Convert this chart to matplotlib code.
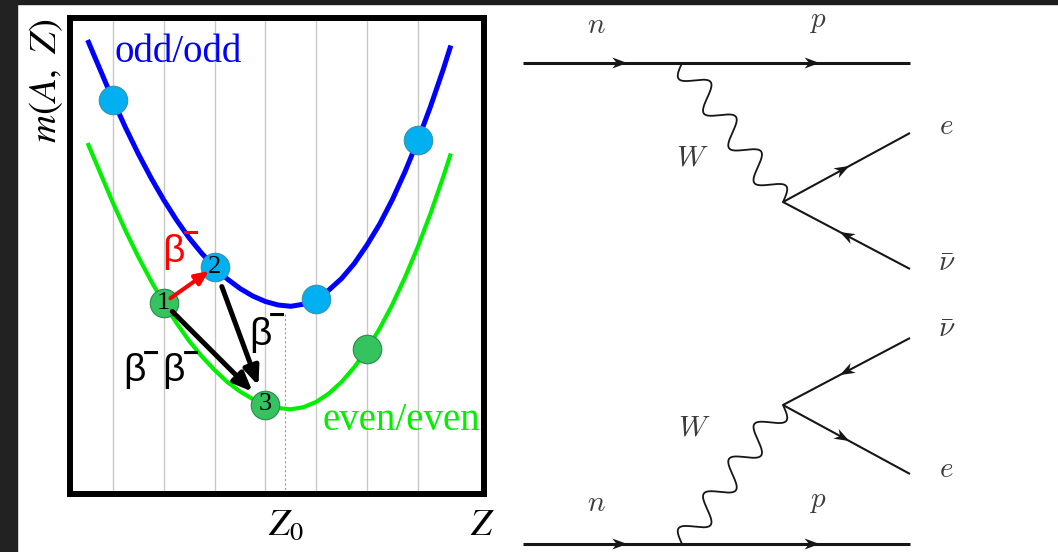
import matplotlib.pyplot as plt
import numpy as np
from matplotlib.patches import Rectangle, Polygon

W_PX, H_PX = 1058, 552

# mass parabolas, Z counted from the first grid line, mass in arbitrary units
z_curve = [-0.5, -0.25, 0, 0.25, 0.5, 0.75, 1, 1.25, 1.5, 1.75, 2, 2.25, 2.5, 2.75, 3,
           3.25, 3.5, 3.75, 4, 4.25, 4.5, 4.75, 5, 5.25, 5.5, 5.75, 6, 6.25, 6.5, 6.65]
m_odd = [455, 425, 395, 367, 341, 317, 295, 275, 257, 241.5, 228, 216, 206.5, 199, 193.5,
         190, 188.7, 190.8, 196, 205, 216.5, 231.5, 250, 271, 295.5, 323.5, 354.5, 388.5, 425.5, 449.5]
m_even = [352, 322, 292, 264, 238, 214, 192, 172, 154, 138.5, 125, 113, 103.5, 96, 90.5,
          87, 85.7, 87.8, 93.1, 101.5, 113.1, 127.8, 145.6, 166.5, 190.6, 217.8, 248.1, 281.5, 318.1, 341.5]

# nuclides sitting on the parabolas
z_odd = [0, 2, 4, 6]
m_odd_pts = [395, 228, 196, 354.5]
z_even = [1, 3, 5]
m_even_pts = [192, 90.5, 145.6]

z_grid = [0, 1, 2, 3, 4, 5, 6]
z0 = 3.39

BLUE = '#0000ff'
GREEN = '#00f000'


def fx(x):
    return x / W_PX


def fy(y):
    return 1 - y / H_PX


fig = plt.figure(figsize=(W_PX / 100, H_PX / 100), dpi=100)
fig.patch.set_facecolor('white')
fig.patches.append(Rectangle((0, fy(3.5)), 1, 3.5 / H_PX, transform=fig.transFigure,
                             color='#1e1e1e', zorder=0))
fig.patches.append(Rectangle((0, 0), fx(16.7), 1, transform=fig.transFigure,
                             color='#222222', zorder=0))

# ---------------- mass parabola panel ----------------
ax = fig.add_axes([fx(69.7), fy(494), 413.8 / W_PX, 475.7 / H_PX])
ax.set_xlim(-0.852, 7.293)
ax.set_ylim(1, 476.7)
ax.set_xticks([])
ax.set_yticks([])
for sp in ax.spines.values():
    sp.set_linewidth(4.3)
    sp.set_color('black')

for z in z_grid:
    ax.axvline(z, color='#c8c8c8', lw=1.0, zorder=1)
ax.vlines(z0, 1, 183, color='#999999', lw=0.8, linestyles=(0, (2, 2)), zorder=1)

ax.plot(z_curve, m_odd, color=BLUE, lw=3.6, solid_capstyle='butt', zorder=2)
ax.plot(z_curve, m_even, color=GREEN, lw=3.0, solid_capstyle='butt', zorder=2)
ax.plot(z_odd, m_odd_pts, 'o', ms=20.5, mfc='#00b0f0', mec='#3d8fb0', mew=0.8, zorder=3)
ax.plot(z_even, m_even_pts, 'o', ms=20.5, mfc='#35c360', mec='#2a8a4a', mew=0.8, zorder=3)

p1 = (z_even[0], m_even_pts[0])
p2 = (z_odd[1], m_odd_pts[1])
p3 = (z_even[1], m_even_pts[1])
for lab, p in zip(['1', '2', '3'], [p1, p2, p3]):
    ax.text(p[0], p[1], lab, ha='center', va='center', fontsize=19,
            family='Liberation Serif', zorder=6)


def decay_arrow(start, end, color, lw, hl, hw, sa, sb):
    ax.annotate('', xy=end, xytext=start, zorder=5,
                arrowprops=dict(arrowstyle=f'-|>,head_length={hl},head_width={hw}',
                                mutation_scale=1, color=color, lw=lw,
                                shrinkA=sa, shrinkB=sb))


decay_arrow(p1, p2, '#ff0000', 2.9, 8.0, 3.6, 5.8, 5.0)
decay_arrow(p1, p3, 'black', 3.6, 11.0, 4.6, 8.6, 13.0)
decay_arrow(p2, p3, 'black', 3.6, 11.0, 4.6, 15.0, 14.4)


def beta_label(xb, yb, xm, ym, color):
    fig.text(fx(xb), fy(yb), 'β', ha='center', va='center', fontsize=28,
             family='Liberation Sans', color=color)
    fig.text(fx(xm), fy(ym), '−', ha='center', va='center', fontsize=20,
             family='Liberation Sans', fontweight='bold', color=color)


beta_label(173, 252, 191.5, 235, '#ff0000')
beta_label(260, 335, 277, 317, 'black')
beta_label(134, 371, 151, 355, 'black')
beta_label(173, 371, 191, 355, 'black')

fig.text(fx(115), fy(62), 'odd/odd', ha='left', va='baseline', fontsize=28,
         family='Liberation Serif', color=BLUE)
fig.text(fx(322), fy(430), 'even/even', ha='left', va='baseline', fontsize=28,
         family='Liberation Serif', color=GREEN)

fig.text(fx(46), fy(81), r'$m(A,\ Z)$', rotation=90, ha='center', va='center',
         fontsize=28, math_fontfamily='stix')
fig.text(fx(286), fy(535), r'$Z_0$', ha='center', va='baseline', fontsize=27,
         math_fontfamily='stix')
fig.text(fx(482), fy(535), r'$Z$', ha='center', va='baseline', fontsize=27,
         math_fontfamily='stix')

# ---------------- beta decay Feynman diagrams ----------------
fa = fig.add_axes([fx(500), 0, (W_PX - 500) / W_PX, 1])
fa.set_xlim(500, W_PX)
fa.set_ylim(H_PX, 0)
fa.axis('off')
fa.patch.set_visible(False)

INK = '#161616'
LABEL = '#3c3c3c'


def arrow_head(p0, p1, frac, length=15, width=11):
    p0, p1 = np.asarray(p0, float), np.asarray(p1, float)
    u = (p1 - p0) / np.hypot(*(p1 - p0))
    v = np.array([-u[1], u[0]])
    c = p0 + frac * (p1 - p0)
    tip = c + 0.5 * length * u
    back = c - 0.5 * length * u
    notch = c - 0.2 * length * u
    pts = [tip, back + 0.5 * width * v, notch, back - 0.5 * width * v]
    fa.add_patch(Polygon(pts, closed=True, color=INK, lw=0, zorder=4))


def fermion(p0, p1, frac, lw=1.5):
    fa.plot([p0[0], p1[0]], [p0[1], p1[1]], color=INK, lw=lw, solid_capstyle='butt')
    arrow_head(p0, p1, frac)


def boson(p0, p1, side, periods=4.0, amp=12):
    p0, p1 = np.asarray(p0, float), np.asarray(p1, float)
    d = p1 - p0
    length = np.hypot(*d)
    u = d / length
    n = np.array([-u[1], u[0]])
    s = np.linspace(0, length, 500)
    off = side * amp * np.sin(2 * np.pi * periods * s / length)
    pts = p0 + np.outer(s, u) + np.outer(off, n)
    fa.plot(pts[:, 0], pts[:, 1], color=INK, lw=1.3)


def diagram(y_line, flip, labels):
    # flip = +1: lepton vertex below the nucleon line, -1: above
    x_in, x_w, x_out = 523, 682, 910
    vtx = (783, y_line + flip * 139)
    e_end = (910, y_line + flip * 70)
    nu_end = (910, y_line + flip * 206)
    fermion((x_in, y_line), (x_out, y_line), 0.25, lw=2.2)
    arrow_head((x_in, y_line), (x_out, y_line), 0.747)
    boson((x_w, y_line), vtx, side=flip)
    fermion(vtx, e_end, 0.47)
    fermion(nu_end, vtx, 0.5)
    for txt, (x, y) in labels.items():
        fa.text(x, y, txt, ha='center', va='center', fontsize=21, color=LABEL,
                math_fontfamily='cm')


diagram(63, 1, {r'$n$': (596, 25), r'$p$': (818, 21), r'$W$': (692, 157),
                r'$e$': (946, 126), r'$\bar{\nu}$': (947, 263)})
diagram(544, -1, {r'$n$': (596, 503), r'$p$': (818, 501), r'$W$': (694, 428),
                  r'$e$': (946, 469), r'$\bar{\nu}$': (947, 329)})

fig.savefig('out.png', dpi=100)
